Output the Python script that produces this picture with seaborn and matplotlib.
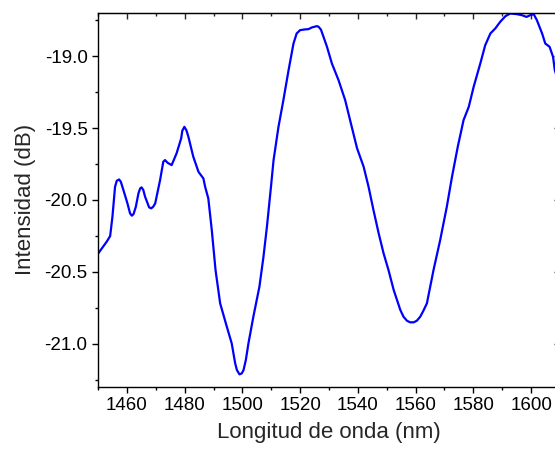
import numpy as np
import pandas as pd
import matplotlib
matplotlib.use("Agg")
import matplotlib.pyplot as plt
import seaborn as sns
from matplotlib.ticker import MultipleLocator

# spectrum
wavelength = [
    1450.1, 1453.0, 1454.2, 1455.0, 1455.9, 1456.5, 1457.3, 1457.9, 1458.8,
    1460.2, 1461.1, 1461.7, 1462.3, 1463.1, 1464.0, 1464.6, 1465.1, 1465.7,
    1466.3, 1467.7, 1468.4, 1469.1, 1469.8, 1471.5, 1472.6, 1473.2, 1474.1,
    1475.5, 1477.2, 1478.8, 1479.2, 1479.9, 1480.6, 1481.3, 1483.0, 1484.8,
    1486.5, 1487.1, 1488.2, 1489.4, 1490.7, 1492.3, 1494.6, 1496.3, 1497.5,
    1498.1, 1499.0, 1499.8, 1500.4, 1501.2, 1502.1, 1503.8, 1505.9, 1507.3,
    1508.5, 1509.9, 1510.8, 1512.5, 1514.2, 1516.0, 1517.7, 1518.8, 1520.0,
    1521.7, 1522.9, 1524.1, 1524.9, 1525.8, 1526.4, 1527.2, 1528.1, 1529.3,
    1531.0, 1533.3, 1535.6, 1537.3, 1539.7, 1542.0, 1543.7, 1545.4, 1547.2,
    1548.9, 1550.6, 1552.4, 1554.7, 1555.8, 1557.0, 1558.1, 1559.3, 1560.4,
    1561.6, 1562.7, 1563.9, 1566.2, 1568.5, 1570.8, 1572.6, 1574.6, 1576.6,
    1578.4, 1580.1, 1582.4, 1584.1, 1585.9, 1587.6, 1589.3, 1591.1, 1592.8,
    1595.1, 1596.8, 1598.4, 1599.7, 1600.9, 1602.0, 1603.8, 1604.9, 1606.4,
    1607.6, 1608.2, 1609.0,
]
intensity = [
    -20.372, -20.291, -20.252, -20.117, -19.909, -19.867, -19.858, -19.874, -19.932,
    -20.025, -20.094, -20.110, -20.099, -20.048, -19.955, -19.920, -19.913, -19.932,
    -19.978, -20.052, -20.059, -20.048, -20.025, -19.862, -19.735, -19.723, -19.742,
    -19.758, -19.677, -19.572, -19.519, -19.492, -19.515, -19.561, -19.700, -19.805,
    -19.851, -19.909, -19.990, -20.210, -20.488, -20.720, -20.882, -20.998, -21.137,
    -21.184, -21.214, -21.207, -21.184, -21.114, -20.998, -20.813, -20.604, -20.396,
    -20.187, -19.909, -19.723, -19.492, -19.306, -19.097, -18.912, -18.842, -18.819,
    -18.814, -18.812, -18.800, -18.796, -18.791, -18.796, -18.815, -18.866, -18.935,
    -19.051, -19.167, -19.306, -19.445, -19.640, -19.770, -19.909, -20.071, -20.233,
    -20.372, -20.488, -20.627, -20.766, -20.813, -20.841, -20.852, -20.852, -20.841,
    -20.813, -20.771, -20.720, -20.488, -20.280, -20.048, -19.839, -19.630, -19.445,
    -19.353, -19.213, -19.051, -18.924, -18.842, -18.807, -18.761, -18.722, -18.703,
    -18.708, -18.715, -18.727, -18.715, -18.708, -18.750, -18.842, -18.912, -18.935,
    -19.005, -19.097, -19.150,
]

df = pd.DataFrame({"wl": wavelength, "db": intensity})

sns.set_style("ticks")
plt.rcParams["font.family"] = ["Liberation Sans", "DejaVu Sans"]

fig = plt.figure(figsize=(5.55, 4.54), dpi=100)
ax = fig.add_axes([0.1766, 0.1482, 0.8324, 0.8231])

sns.lineplot(data=df, x="wl", y="db", ax=ax, color="#0000ff", linewidth=1.6,
             estimator=None, sort=False, solid_joinstyle="round",
             solid_capstyle="round")

ax.set_xlim(1450, 1610)
ax.set_ylim(-21.3, -18.7)
ax.xaxis.set_major_locator(MultipleLocator(20))
ax.xaxis.set_minor_locator(MultipleLocator(10))
ax.yaxis.set_major_locator(MultipleLocator(0.5))
ax.yaxis.set_minor_locator(MultipleLocator(0.25))
ax.yaxis.set_major_formatter(matplotlib.ticker.FormatStrFormatter("%.1f"))

for s in ax.spines.values():
    s.set_visible(True)
    s.set_linewidth(1.0)
    s.set_color("black")

ax.tick_params(which="both", direction="out", top=False, right=False,
               labelsize=13.5, colors="black", width=1.0, pad=3)
ax.tick_params(which="major", length=4.5)
ax.tick_params(which="minor", length=2.3)

# inward ticks on top and right
ax2 = ax.secondary_xaxis("top")
ax2.xaxis.set_major_locator(MultipleLocator(20))
ax2.xaxis.set_minor_locator(MultipleLocator(10))
ax2.tick_params(which="both", direction="in", labeltop=False, width=1.0)
ax2.tick_params(which="major", length=4.5)
ax2.tick_params(which="minor", length=2.3)
ax3 = ax.secondary_yaxis("right")
ax3.yaxis.set_major_locator(MultipleLocator(0.5))
ax3.yaxis.set_minor_locator(MultipleLocator(0.25))
ax3.tick_params(which="both", direction="in", labelright=False, width=1.0)
ax3.tick_params(which="major", length=4.5)
ax3.tick_params(which="minor", length=2.3)

ax.set_xlabel("Longitud de onda (nm)", fontsize=16, labelpad=6)
ax.set_ylabel("Intensidad (dB)", fontsize=16, labelpad=6)

fig.savefig("out.png", dpi=100)
